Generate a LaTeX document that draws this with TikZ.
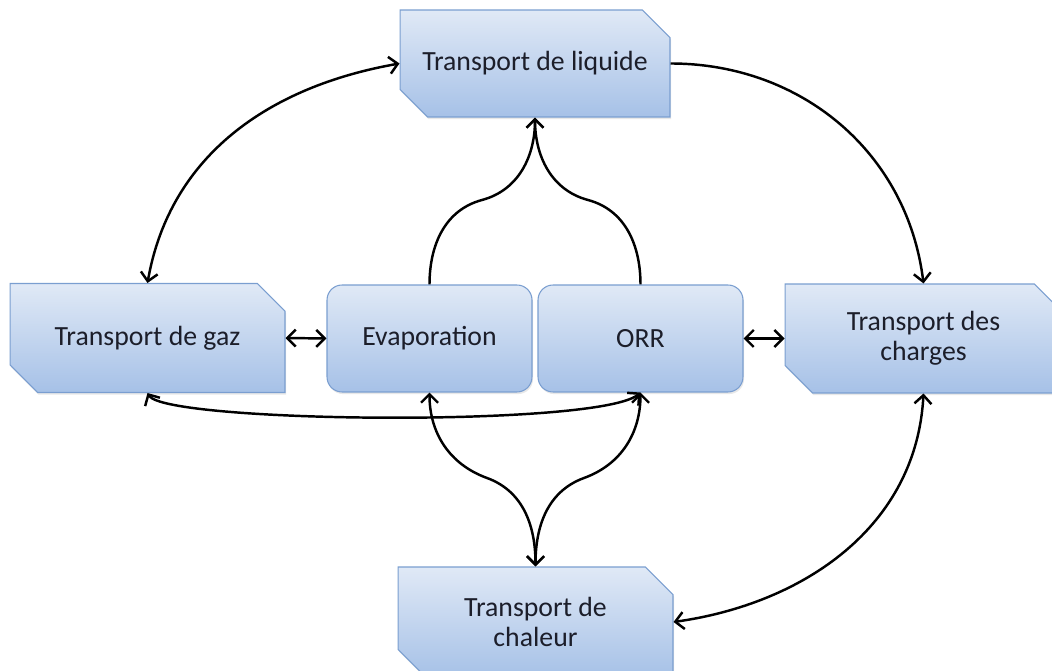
\documentclass[tikz,border=0pt]{standalone}
\usepackage{fontspec}
\setmainfont{Carlito}
\usepackage{tikz}
\usetikzlibrary{arrows.meta, positioning, shapes.misc, shadows, calc}
\definecolor{boxtop}{RGB}{224,233,246}
\definecolor{boxbottom}{RGB}{166,193,231}
\definecolor{boxline}{RGB}{122,158,208}
\definecolor{labelink}{RGB}{28,30,42}

\begin{document}
\begin{tikzpicture}[x=0.02cm, y=0.02cm,
    every node/.style={font=\fontsize{15.8}{16.8}\selectfont, text=labelink, align=center},
    boxbase/.style={draw=boxline, line width=0.6pt, top color=boxtop, bottom color=boxbottom, inner sep=0pt,
        drop shadow={opacity=0.18, shadow xshift=0.6pt, shadow yshift=-1.2pt}},
    snipbox/.style={boxbase, chamfered rectangle, chamfered rectangle corners={north east, south west},
        chamfered rectangle xsep=0.23cm, chamfered rectangle ysep=0.32cm, minimum width=5.5cm, minimum height=2.18cm},
    roundbox/.style={boxbase, rectangle, rounded corners=0.3cm, minimum width=4.1cm, minimum height=2.14cm},
    link/.style={line width=1.4pt, {Straight Barb[length=1.7mm,width=3.4mm]}-{Straight Barb[length=1.7mm,width=3.4mm]}},
    tolink/.style={line width=1.4pt, -{Straight Barb[length=1.7mm,width=3.4mm]}}]
    \useasboundingbox (0,0) rectangle (1052,-671);
    \clip (0,0) rectangle (1052,-671);
    % boxes
    \node[snipbox, minimum width=5.4cm, minimum height=2.14cm] (liquide) at (535,-63.5) {Transport de liquide};
    \node[snipbox] (gaz) at (147.5,-338) {Transport de gaz};
    \node[roundbox] (evap) at (429.5,-338.5) {Evaporation};
    \node[roundbox] (orr) at (640.5,-338.5) {ORR};
    \node[snipbox, minimum width=5.54cm] (charges) at (923.5,-338.5) {Transport des\\charges};
    \node[snipbox, minimum height=2.2cm] (chaleur) at (535.5,-622) {Transport de\\chaleur};
    % knees of the two braces
    \coordinate (upL) at (482,-200);
    \coordinate (upR) at (588,-200);
    \coordinate (dnL) at (487,-478);
    \coordinate (dnR) at (584,-478);
    % links
    \draw[link] (gaz.north) to[out=80, in=190] (liquide.west);
    \draw[tolink] (liquide.east) to[out=0, in=97] (charges.north);
    \draw[tolink] (evap.north) to[out=90, in=195] (upL) to[out=15, in=-90] (liquide.south);
    \draw[tolink] (orr.north) to[out=90, in=-15] (upR) to[out=165, in=-90] (liquide.south);
    \draw[link] (gaz.east) -- (evap.west);
    \draw[link] (orr.east) -- (charges.west);
    \draw[link] (gaz.south) .. controls +(17,-30) and +(-40,-35) .. (orr.south);
    \draw[link] (evap.south) to[out=-90, in=160] (dnL) to[out=-20, in=90] (chaleur.north);
    \draw[link] (orr.south) to[out=-90, in=20] (dnR) to[out=200, in=90] (chaleur.north);
    \draw[link] (charges.south) to[out=-93, in=8] (chaleur.east);
\end{tikzpicture}
\end{document}
